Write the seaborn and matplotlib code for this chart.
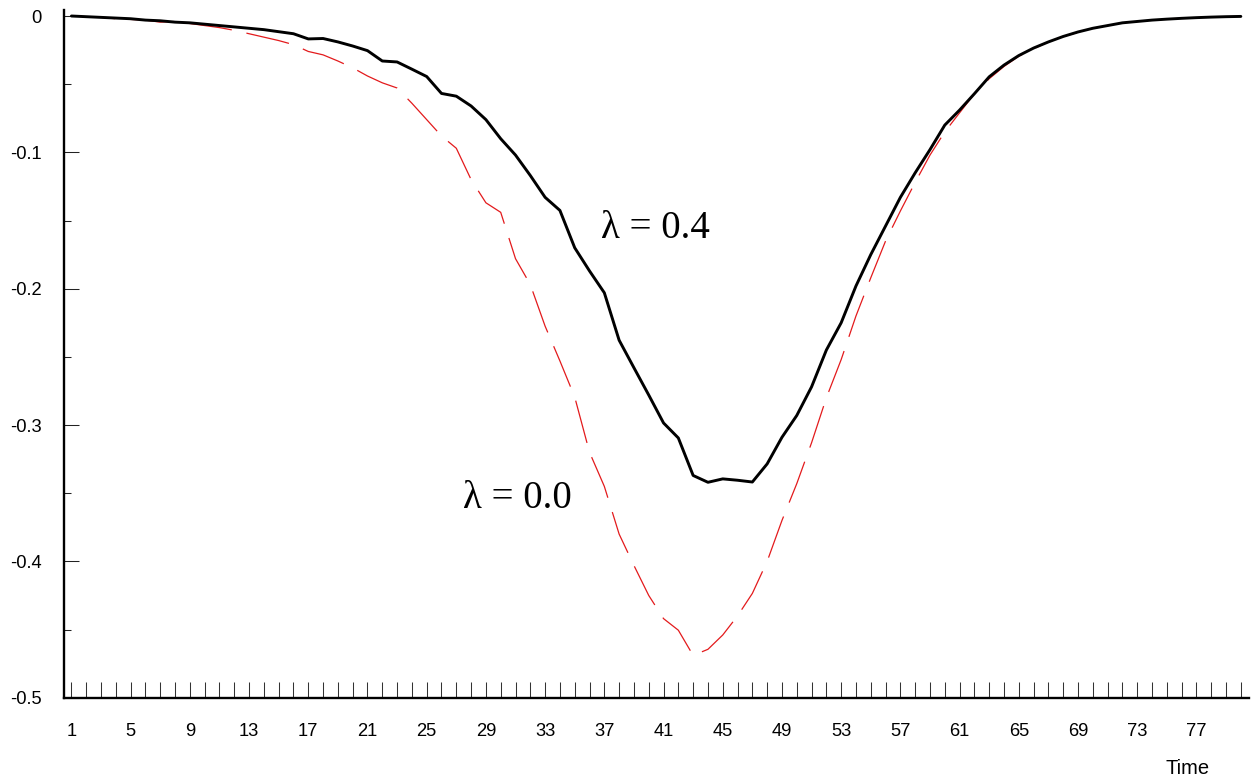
import numpy as np
import pandas as pd
import matplotlib
matplotlib.use("Agg")
import matplotlib.pyplot as plt
import seaborn as sns
from matplotlib.ticker import FixedLocator

# ---- data ----
time = list(range(1, 81))
lam_04 = [0.0, -0.0005, -0.001, -0.0015, -0.002, -0.003, -0.0035, -0.0045, -0.005, -0.006,
          -0.007, -0.008, -0.009, -0.010, -0.0115, -0.013, -0.0168, -0.0165, -0.019, -0.022,
          -0.0254, -0.033, -0.0337, -0.039, -0.0444, -0.0568, -0.0588, -0.066, -0.076, -0.090,
          -0.102, -0.117, -0.133, -0.1426, -0.170, -0.187, -0.203, -0.2378, -0.258, -0.278,
          -0.2985, -0.3095, -0.337, -0.342, -0.3395, -0.3405, -0.3418, -0.3285, -0.309, -0.293,
          -0.272, -0.245, -0.225, -0.198, -0.175, -0.154, -0.133, -0.115, -0.098, -0.080,
          -0.069, -0.057, -0.0446, -0.036, -0.029, -0.0235, -0.019, -0.015, -0.0117, -0.009,
          -0.007, -0.005, -0.004, -0.003, -0.0023, -0.0017, -0.0012, -0.0008, -0.0005, -0.0003]
lam_00 = [0.0, -0.0005, -0.001, -0.002, -0.0025, -0.003, -0.0045, -0.004, -0.0055, -0.007,
          -0.0085, -0.0105, -0.013, -0.0155, -0.018, -0.021, -0.026, -0.0285, -0.033, -0.038,
          -0.044, -0.049, -0.0528, -0.064, -0.076, -0.088, -0.097, -0.120, -0.137, -0.144,
          -0.178, -0.197, -0.2275, -0.253, -0.2795, -0.320, -0.345, -0.380, -0.403, -0.425,
          -0.442, -0.4505, -0.469, -0.4645, -0.454, -0.440, -0.4235, -0.400, -0.370, -0.343,
          -0.313, -0.280, -0.252, -0.220, -0.192, -0.165, -0.143, -0.122, -0.102, -0.085,
          -0.071, -0.057, -0.046, -0.037, -0.0295, -0.024, -0.019, -0.015, -0.012, -0.009,
          -0.007, -0.005, -0.004, -0.003, -0.0023, -0.0017, -0.0012, -0.0008, -0.0005, -0.0003]
label_04 = "λ = 0.4"
label_00 = "λ = 0.0"
x_label = "Time"
x_tick_labels = [str(t) if (t - 1) % 4 == 0 else "" for t in time]
y_ticks = [0, -0.1, -0.2, -0.3, -0.4, -0.5]
y_minor_ticks = [-0.05, -0.15, -0.25, -0.35, -0.45]
y_tick_labels = ["0", "-0.1", "-0.2", "-0.3", "-0.4", "-0.5"]

df = pd.DataFrame({"Time": time, "l04": lam_04, "l00": lam_00})

sns.set_style("white", {"xtick.bottom": True, "ytick.left": True,
                        "xtick.direction": "in", "ytick.direction": "in",
                        "text.color": "black"})
plt.rcParams["font.family"] = ["Liberation Sans", "DejaVu Sans"]
plt.rcParams["axes.unicode_minus"] = False

fig = plt.figure(figsize=(12.53, 7.82), dpi=100)
ax = fig.add_axes([0.0511, 0.1078, 0.9457, 0.8794])

sns.lineplot(data=df, x="Time", y="l00", ax=ax, color="#e31a1c", linewidth=0.9)
ax.lines[-1].set_dashes((35, 12))
sns.lineplot(data=df, x="Time", y="l04", ax=ax, color="black", linewidth=2.1)

ax.set_xlim(0.5, 80.55)
ax.set_ylim(-0.5, 0.0044)

# x ticks: every integer, labels every 4
ax.xaxis.set_major_locator(FixedLocator(time))
ax.set_xticklabels(x_tick_labels)
ax.tick_params(axis="x", which="major", direction="in", length=11.5, width=0.75,
               color="#333333", pad=18, labelsize=13.2, labelcolor="black", bottom=True)

ax.yaxis.set_major_locator(FixedLocator(y_ticks))
ax.set_yticklabels(y_tick_labels)
ax.yaxis.set_minor_locator(FixedLocator(y_minor_ticks))
ax.tick_params(axis="y", which="major", direction="in", length=11, width=0.75,
               color="#222222", pad=16, labelsize=13.2, labelcolor="black", left=True)
ax.tick_params(axis="y", which="minor", direction="in", length=5, width=0.75,
               color="#222222", left=True)

ax.set_xlabel("")
ax.set_ylabel("")
for side in ["top", "right"]:
    ax.spines[side].set_visible(False)
for side in ["left", "bottom"]:
    ax.spines[side].set_linewidth(1.7)
    ax.spines[side].set_color("black")

serif = ["Liberation Serif", "DejaVu Serif"]
ax.text(36.76, -0.1628, label_04, family=serif, fontsize=28, color="black",
        ha="left", va="baseline")
ax.text(27.44, -0.361, label_00, family=serif, fontsize=28, color="black",
        ha="left", va="baseline")

fig.text(1165 / 1253, 1 - 774 / 782, x_label, fontsize=14.5, color="black",
         ha="left", va="baseline")

fig.savefig("out.png", dpi=100)
